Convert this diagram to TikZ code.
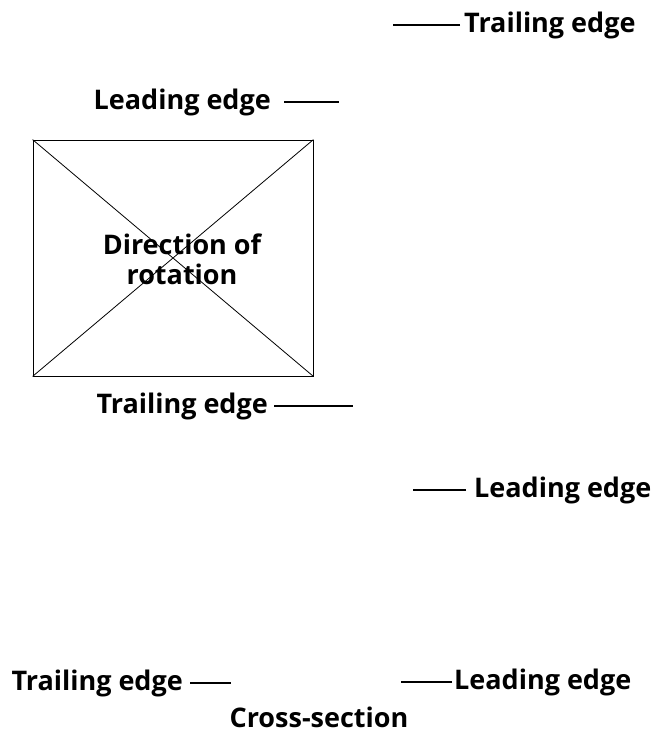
\documentclass[tikz,border=0pt]{standalone}
\usepackage{fontspec}
\setmainfont{Open Sans}
\usetikzlibrary{positioning}
\tikzset{
  edge label/.style = {font=\bfseries\fontsize{27}{30}\selectfont, inner sep=0pt,
                        align=center},
  leader/.style     = {line width=2.6pt},
  frame box/.style  = {draw, line width=0.8pt, minimum width=280pt,
                        minimum height=236pt, inner sep=0pt},
}
\begin{document}
\begin{tikzpicture}[x=1pt,y=-1pt]
  \useasboundingbox (0,0) rectangle (655,734);

  %% --- blade outline ---------------------------------------------
  \node[frame box] (blade) at (173,258) {};
  \draw[line width=0.8pt] (blade.north west) -- (blade.south east)
                          (blade.north east) -- (blade.south west);
  \node[edge label] (rot) at (182,259) {Direction of\\rotation};

  %% --- edge labels -----------------------------------------------
  \node[edge label, anchor=west] (teTop) at (464,25) {Trailing edge};
  \coordinate[left=71pt of teTop.west] (teTopEnd);
  \draw[leader] ([xshift=-4pt]teTop.west) -- (teTopEnd);

  \node[edge label, anchor=east] (leLeft) at (271,102) {Leading edge};
  \coordinate[right=68pt of leLeft.east] (leLeftEnd);
  \draw[leader] ([xshift=13pt]leLeft.east) -- (leLeftEnd);

  \node[edge label, anchor=east] (teMid) at (268,406) {Trailing edge};
  \coordinate[right=85pt of teMid.east] (teMidEnd);
  \draw[leader] ([xshift=6pt]teMid.east) -- (teMidEnd);

  \node[edge label, anchor=west] (leRight) at (474,490) {Leading edge};
  \coordinate[left=61pt of leRight.west] (leRightEnd);
  \draw[leader] ([xshift=-8pt]leRight.west) -- (leRightEnd);

  %% --- cross-section ---------------------------------------------
  \node[edge label, anchor=east] (teBot) at (183,683) {Trailing edge};
  \coordinate[right=48pt of teBot.east] (teBotEnd);
  \draw[leader] ([xshift=7pt]teBot.east) -- (teBotEnd);

  \node[edge label, anchor=west] (leBot) at (454,682) {Leading edge};
  \coordinate[left=53pt of leBot.west] (leBotEnd);
  \draw[leader] ([xshift=-2pt]leBot.west) -- (leBotEnd);

  \node[edge label] (cross) at (319,717) {Cross-section};
\end{tikzpicture}
\end{document}
